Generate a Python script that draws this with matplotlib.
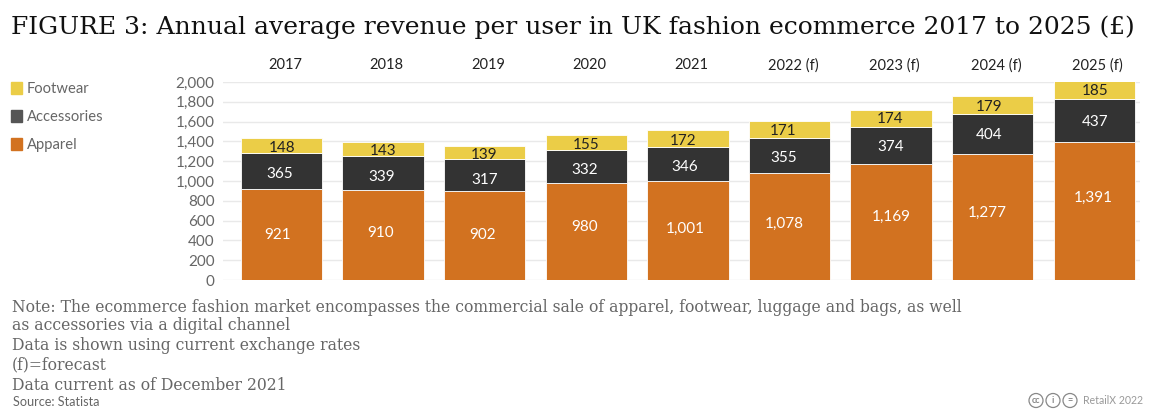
import matplotlib
matplotlib.use("Agg")
import matplotlib.pyplot as plt
from matplotlib.patches import Rectangle, Ellipse
from matplotlib.transforms import ScaledTranslation

years = ["2017", "2018", "2019", "2020", "2021", "2022 (f)", "2023 (f)", "2024 (f)", "2025 (f)"]
apparel = [921, 910, 902, 980, 1001, 1078, 1169, 1277, 1391]
accessories = [365, 339, 317, 332, 346, 355, 374, 404, 437]
footwear = [148, 143, 139, 155, 172, 171, 174, 179, 185]
y_ticks = [0, 200, 400, 600, 800, 1000, 1200, 1400, 1600, 1800, 2000]
legend_names = ["Footwear", "Accessories", "Apparel"]

title = "FIGURE 3: Annual average revenue per user in UK fashion ecommerce 2017 to 2025 (£)"
notes = [
    "Note: The ecommerce fashion market encompasses the commercial sale of apparel, footwear, luggage and bags, as well",
    "as accessories via a digital channel",
    "Data is shown using current exchange rates",
    "(f)=forecast",
    "Data current as of December 2021",
]

W, H = 1154, 420
ORANGE, DARK, YELLOW = "#d27220", "#333333", "#ebcd47"
SANS = "Lato"
SERIF = "DejaVu Serif"

# label nudges in pixels, the original labels are not quite centred in their segments
apparel_dx = [-4, -3, -2.5, -2, -2.5, -5, 0, -5, -1]
apparel_dy = [0.7, 3, 1.8, 5.5, 3.2, 3.9, 6.3, 5, 14.4]
accessories_dx = [-1.5, -1, -0.5, -1.5, -3.5, -6, 0, -4, 1]
accessories_dy = [-2.2, -2, -3, -1.5, -2.2, -0.3, -0.2, -0.4, -0.3]
footwear_dx = [1, -0.5, -0.5, -0.5, -4.5, -6, -0.5, -4, 1]
footwear_dy = [-0.7, -0.7, -0.6, -0.6, -1, -0.3, 1.6, -0.3, -0.1]


def fx(px):
    return px / W


def fy(py):
    return 1 - py / H


def label(ax, i, y, value, dx, dy, color):
    ax.annotate(f"{value:,}", (i, y), xytext=(dx, dy), textcoords="offset pixels",
                ha="center", va="center_baseline", color=color, fontsize=11, family=SANS, zorder=3)


fig = plt.figure(figsize=(W / 100, H / 100), dpi=100)
ax = fig.add_axes([fx(223), fy(280), (1140 - 223) / W, 198 / H])

x = list(range(len(years)))
bottom2 = [a + b for a, b in zip(apparel, accessories)]
ax.bar(x, apparel, width=0.8, color=ORANGE, edgecolor="white", linewidth=0.6, zorder=2)
ax.bar(x, accessories, width=0.8, bottom=apparel, color=DARK, edgecolor="white", linewidth=0.6, zorder=2)
ax.bar(x, footwear, width=0.8, bottom=bottom2, color=YELLOW, edgecolor="white", linewidth=0.6, zorder=2)

for i in x:
    label(ax, i, apparel[i] / 2, apparel[i], apparel_dx[i], apparel_dy[i], "white")
    label(ax, i, apparel[i] + accessories[i] / 2, accessories[i], accessories_dx[i], accessories_dy[i], "white")
    label(ax, i, bottom2[i] + footwear[i] / 2, footwear[i], footwear_dx[i], footwear_dy[i], "#222222")

ax.set_xlim(-0.576, 8.45)
ax.set_ylim(0, 2000)
ax.set_yticks(y_ticks)
ax.set_yticklabels([f"{v:,}" for v in y_ticks], fontsize=11, color="#666666", family=SANS)
ax.tick_params(axis="y", length=0, pad=6)
ax.xaxis.tick_top()
ax.set_xticks(x)
ax.set_xticklabels(years, fontsize=10.5, color="#222222", family=SANS)
ax.tick_params(axis="x", length=0, pad=7)
shift = ScaledTranslation(3.5 / 100, 0, fig.dpi_scale_trans)
for t in ax.get_xticklabels():
    t.set_transform(t.get_transform() + shift)
ax.grid(axis="y", color="#e9e9e9", linewidth=1, zorder=0)
ax.set_axisbelow(True)
for s in ax.spines.values():
    s.set_visible(False)

fig.text(fx(11), fy(27), title, fontsize=18.0, family=SERIF, color="#111111", va="center", ha="left")

for name, c, py in zip(legend_names, [YELLOW, "#555555", ORANGE], [88, 116, 144]):
    fig.patches.append(Rectangle((fx(11), fy(py + 6)), 11 / W, 12 / H, transform=fig.transFigure, color=c))
    fig.text(fx(27), fy(py + 1), name, fontsize=10.6, family=SANS, color="#666666", va="center")

for line, py in zip(notes, [307, 326, 346, 365, 385]):
    fig.text(fx(12), fy(py), line, fontsize=11.27, family=SERIF, color="#666666", va="center")
fig.text(fx(13), fy(402), "Source: Statista", fontsize=9.1, family=SANS, color="#666666", va="center")

# licence badges bottom right
for px, s in zip([1036, 1053, 1070], ["cc", "i", "="]):
    fig.patches.append(Ellipse((fx(px), fy(400.5)), 14 / W, 14 / H, transform=fig.transFigure, fill=False, edgecolor="#888888", linewidth=0.9))
    fig.text(fx(px), fy(400.5), s, fontsize=6.5, family=SANS, color="#888888", ha="center", va="center", weight="bold")
fig.text(fx(1083), fy(400.5), "RetailX 2022", fontsize=7.6, family=SANS, color="#999999", va="center")

fig.savefig("out.png", dpi=100)
